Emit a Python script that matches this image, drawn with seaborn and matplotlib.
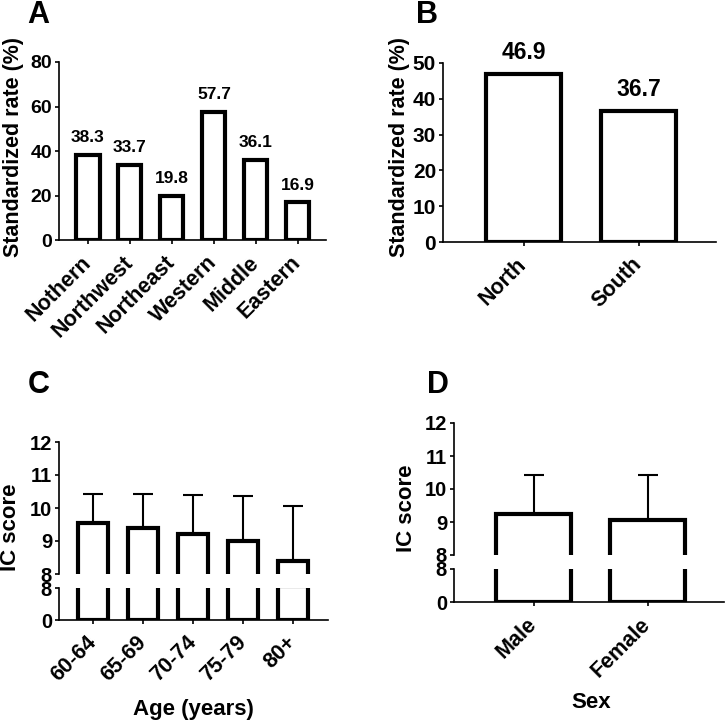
import numpy as np
import matplotlib
matplotlib.use('Agg')
import matplotlib.pyplot as plt
import seaborn as sns

# data
regions = ['Nothern', 'Northwest', 'Northeast', 'Western', 'Middle', 'Eastern']
region_rate = [38.3, 33.7, 19.8, 57.7, 36.1, 16.9]

ns = ['North', 'South']
ns_rate = [46.9, 36.7]

ages = ['60-64', '65-69', '70-74', '75-79', '80+']
age_mean = [9.56, 9.40, 9.22, 9.00, 8.38]
age_sd = [0.85, 1.02, 1.17, 1.35, 1.69]

sexes = ['Male', 'Female']
sex_mean = [9.25, 9.06]
sex_sd = [1.16, 1.37]

sns.set_style('ticks')
plt.rcParams['font.family'] = ['Liberation Sans', 'DejaVu Sans']
plt.rcParams['font.weight'] = 'bold'
plt.rcParams['axes.labelweight'] = 'bold'
plt.rcParams['text.color'] = 'black'
plt.rcParams['axes.labelcolor'] = 'black'
plt.rcParams['axes.linewidth'] = 1.2
plt.rcParams['xtick.major.width'] = 1.2
plt.rcParams['ytick.major.width'] = 1.2
plt.rcParams['xtick.major.size'] = 3
plt.rcParams['ytick.major.size'] = 3
plt.rcParams['ytick.major.pad'] = 2
plt.rcParams['xtick.color'] = 'black'
plt.rcParams['ytick.color'] = 'black'
plt.rcParams['axes.edgecolor'] = 'black'

W, H = 728, 724
fig = plt.figure(figsize=(W / 100, H / 100), dpi=100)


def box(left, top, right, bottom):
    return [left / W, 1 - bottom / H, (right - left) / W, (bottom - top) / H]


def bars(ax, cats, vals, width):
    sns.barplot(x=cats, y=vals, ax=ax, color='white', edgecolor='black',
                linewidth=3, width=width, saturation=1, errorbar=None)


def rot_labels(ax, size=15.5):
    ax.tick_params(axis='x', pad=11)
    for lab in ax.get_xticklabels():
        lab.set_rotation(45)
        lab.set_ha('right')
        lab.set_va('center')
        lab.set_rotation_mode('anchor')
        lab.set_fontsize(size)
        lab.set_fontweight('bold')


# Panel A
axA = fig.add_axes(box(59, 62, 326, 240))
bars(axA, regions, region_rate, 0.55)
axA.set_ylim(0, 80)
axA.set_yticks([0, 20, 40, 60, 80])
axA.set_xlim(-0.69, 5.67)
for i, v in enumerate(region_rate):
    axA.annotate(f'{v:.1f}', (i, v), xytext=(0, 7), textcoords='offset points',
                 ha='center', va='bottom', fontsize=12.5, fontweight='bold')
rot_labels(axA)
axA.tick_params(axis='y', labelsize=14)
sns.despine(ax=axA)

# Panel B
axB = fig.add_axes(box(443, 63, 716, 242))
bars(axB, ns, ns_rate, 0.65)
axB.set_ylim(0, 50)
axB.set_yticks([0, 10, 20, 30, 40, 50])
axB.set_xlim(-0.7, 1.67)
for i, v in enumerate(ns_rate):
    axB.annotate(f'{v:.1f}', (i, v), xytext=(0, 7), textcoords='offset points',
                 ha='center', va='bottom', fontsize=16.5, fontweight='bold')
rot_labels(axB)
axB.tick_params(axis='y', labelsize=15)
sns.despine(ax=axB)


def broken(top_box, bot_box, cats, means, sds, width, xlim):
    top = fig.add_axes(top_box)
    bot = fig.add_axes(bot_box)
    for ax in (top, bot):
        bars(ax, cats, means, width)
        ax.set_xlim(*xlim)
        ax.tick_params(axis='y', labelsize=14.5)
    x = np.arange(len(cats))
    top.errorbar(x, means, yerr=[np.zeros(len(cats)), sds], fmt='none',
                 ecolor='black', elinewidth=1.5, capsize=7, capthick=1.5)
    top.set_ylim(8, 12)
    top.set_yticks([8, 9, 10, 11, 12])
    top.set_xticks([])
    sns.despine(ax=top, bottom=True)
    bot.set_ylim(0, 8)
    bot.set_yticks([0, 8])
    rot_labels(bot)
    sns.despine(ax=bot)
    return top, bot


# Panel C
axC, axC2 = broken(box(59, 442, 328, 574), box(59, 588, 328, 620),
                   ages, age_mean, age_sd, 0.6, (-0.68, 4.7))
# Panel D
axD, axD2 = broken(box(454, 423, 724, 555), box(454, 569, 724, 602),
                   sexes, sex_mean, sex_sd, 0.66, (-0.7, 1.67))

# axis labels
fig.text(14 / W, 1 - 147 / H, 'Standardized rate (%)', rotation=90,
         ha='center', va='center', fontsize=15.5, fontweight='bold')
fig.text(399 / W, 1 - 147 / H, 'Standardized rate (%)', rotation=90,
         ha='center', va='center', fontsize=15.5, fontweight='bold')
fig.text(11 / W, 1 - 527 / H, 'IC score', rotation=90,
         ha='center', va='center', fontsize=16, fontweight='bold')
fig.text(407 / W, 1 - 508 / H, 'IC score', rotation=90,
         ha='center', va='center', fontsize=16, fontweight='bold')
fig.text(193 / W, 1 - 710 / H, 'Age (years)', ha='center', va='center',
         fontsize=16, fontweight='bold')
fig.text(591 / W, 1 - 703 / H, 'Sex', ha='center', va='center',
         fontsize=16, fontweight='bold')

# panel letters
for lbl, x, y in [('A', 27, 15), ('B', 416, 15), ('C', 28, 385), ('D', 427, 385)]:
    fig.text(x / W, 1 - y / H, lbl, ha='left', va='center', fontsize=22,
             fontweight='bold')

fig.savefig('out.png', dpi=100)
